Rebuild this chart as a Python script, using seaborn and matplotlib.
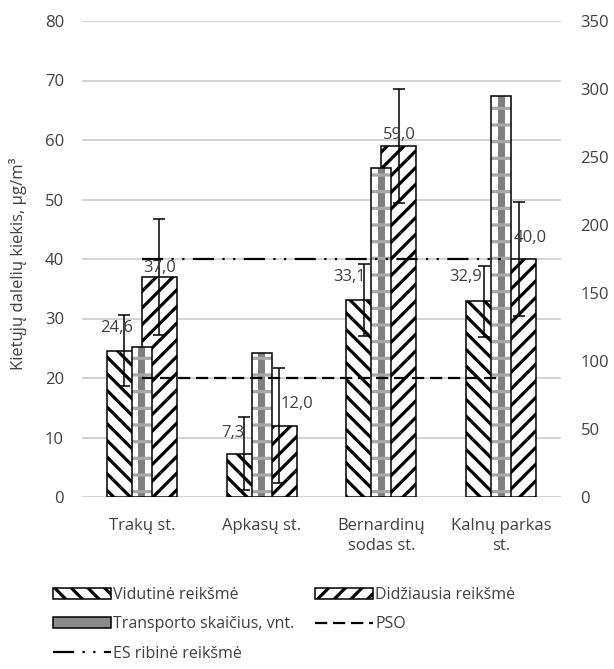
import matplotlib
matplotlib.use("Agg")
import matplotlib.pyplot as plt
import seaborn as sns
import pandas as pd
import numpy as np
from matplotlib.patches import Patch
from matplotlib.lines import Line2D

# ---------------- data ----------------
categories = ["Trakų st.", "Apkasų st.", "Bernardinų\nsodas st.", "Kalnų parkas\nst."]
vidutine = [24.6, 7.3, 33.1, 32.9]
vidutine_err = [6.0, 6.1, 6.1, 6.0]
didziausia = [37.0, 12.0, 59.0, 40.0]
didziausia_err = [9.7, 9.6, 9.6, 9.6]
transportas = [110, 106, 242, 295]
pso = [20, 20, 20, 20]
es = [40, 40, 40, 40]
left_ticks = [0, 10, 20, 30, 40, 50, 60, 70, 80]
right_ticks = [0, 50, 100, 150, 200, 250, 300, 350]

series_names = ["Vidutinė reikšmė", "Didžiausia reikšmė"]
transport_name = "Transporto skaičius, vnt."
pso_name = "PSO"
es_name = "ES ribinė reikšmė"
ylabel = "Kietųjų dalelių kiekis, µg/m³"

# label offsets (pixels) relative to bar centre / top
vid_label_off = [(-8, 23), (-11, 21), (-14, 23), (-18, 24)]
did_label_off = [(0, 9), (18, 22), (0, 11), (12, 21)]

# ---------------- style ----------------
sns.set_theme(style="white")
plt.rcParams["font.family"] = ["Open Sans", "DejaVu Sans"]
plt.rcParams["hatch.linewidth"] = 2.3
text_color = "#404040"
fs = 12
HATCH_V = "\\\\"
HATCH_D = "//"
ES_DASH = (9.5, 3.8, 1, 3.8, 1, 3.8)
PSO_DASH = (5.5, 2.6)

fig = plt.figure(figsize=(6.14, 6.69), dpi=100)
W, H = 614, 669
ax = fig.add_axes([82 / W, 1 - 497 / H, 479 / W, 476 / H])

df = pd.DataFrame({
    "station": categories * 2,
    "series": [series_names[0]] * 4 + [series_names[1]] * 4,
    "value": vidutine + didziausia,
})
sns.barplot(data=df, x="station", y="value", hue="series", order=categories,
            hue_order=series_names, width=0.585, palette=["white", "white"],
            edgecolor="black", linewidth=1.1, legend=False, ax=ax, zorder=2)

for cont, h in zip(ax.containers, [HATCH_V, HATCH_D]):
    for p in cont:
        p.set_hatch(h)
        p.set_edgecolor("black")

# error bars and labels
for cont, vals, errs, offs in zip(ax.containers, [vidutine, didziausia],
                                  [vidutine_err, didziausia_err],
                                  [vid_label_off, did_label_off]):
    xs = [p.get_x() + p.get_width() / 2 for p in cont]
    ax.errorbar(xs, vals, yerr=errs, fmt="none", ecolor="black",
                elinewidth=1.1, capsize=4.3, capthick=1.1, zorder=3)
    for x, v, (dx, dy) in zip(xs, vals, offs):
        ax.annotate(f"{v:.1f}".replace(".", ","), xy=(x, v), xytext=(dx, dy),
                    textcoords="offset pixels", ha="center", va="center",
                    fontsize=fs, color=text_color, zorder=5)

ax.set_ylim(0, 80)
ax.set_xlim(-0.5, len(categories) - 0.5)
ax.set_yticks(left_ticks)
ax.yaxis.grid(True, color="#d0d0d0", linewidth=1.3, zorder=0)
ax.xaxis.grid(False)
ax.set_axisbelow(True)
for s in ax.spines.values():
    s.set_visible(False)
ax.tick_params(axis="both", length=0, labelsize=fs, labelcolor=text_color)
ax.tick_params(axis="y", pad=13)
ax.tick_params(axis="x", pad=15)
for t in ax.get_xticklabels():
    t.set_linespacing(1.35)
ax.set_xlabel("")
ax.set_ylabel(ylabel, fontsize=fs, color=text_color)
ax.yaxis.set_label_coords(-0.115, 0.49)

# secondary axis: transport
ax2 = ax.twinx()
tdf = pd.DataFrame({"station": categories, "value": transportas})
sns.barplot(data=tdf, x="station", y="value", order=categories, width=0.167,
            color="white", edgecolor="none", linewidth=0, ax=ax2,
            saturation=1, zorder=2)
sns.barplot(data=tdf, x="station", y="value", order=categories, width=0.06,
            color="#7f7f7f", edgecolor="none", linewidth=0, ax=ax2,
            saturation=1, zorder=2.5)
sns.barplot(data=tdf, x="station", y="value", order=categories, width=0.167,
            fill=False, edgecolor="#a8a8a8", linewidth=0, hatch="-", ax=ax2,
            saturation=1, zorder=2.6)
sns.barplot(data=tdf, x="station", y="value", order=categories, width=0.167,
            fill=False, edgecolor="black", linewidth=1.1, ax=ax2,
            saturation=1, zorder=2.7)
ax2.set_ylim(0, 350)
ax2.set_yticks(right_ticks)
ax2.set_xlim(-0.5, len(categories) - 0.5)
for s in ax2.spines.values():
    s.set_visible(False)
ax2.grid(False)
ax2.tick_params(axis="y", length=0, labelsize=fs, labelcolor=text_color, pad=14)
ax2.set_ylabel("")
ax2.set_xlabel("")

# reference lines (in primary data coordinates)
xpos = list(range(len(categories)))
ax2.plot(xpos, pso, transform=ax.transData, color="black",
         linewidth=1.6, dashes=PSO_DASH, zorder=4)
ax2.plot(xpos, es, transform=ax.transData, color="black",
         linewidth=1.6, dashes=ES_DASH, zorder=4)

# legend
handles = [
    Patch(facecolor="white", edgecolor="black", hatch=HATCH_V, linewidth=1.1),
    Patch(facecolor="#8c8c8c", edgecolor="black", linewidth=1.1),
    Line2D([0], [0], color="black", linewidth=1.6, dashes=ES_DASH),
    Patch(facecolor="white", edgecolor="black", hatch=HATCH_D, linewidth=1.1),
    Line2D([0], [0], color="black", linewidth=1.6, dashes=PSO_DASH),
]
labels = [series_names[0], transport_name, es_name, series_names[1], pso_name]
fig.legend(handles, labels, ncol=2, loc="upper left",
           bbox_to_anchor=(39 / W, 1 - 573 / H), frameon=False,
           fontsize=fs - 0.5, handlelength=3.6, handleheight=0.7,
           handletextpad=0.15, labelspacing=0.82, columnspacing=1.3,
           labelcolor=text_color)

fig.savefig("out.png", dpi=100)
